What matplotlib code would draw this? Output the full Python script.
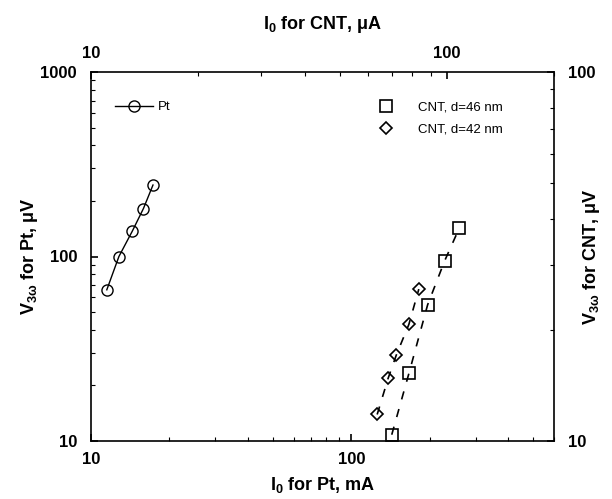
import numpy as np
import matplotlib
matplotlib.use("Agg")
import matplotlib.pyplot as plt
from matplotlib.ticker import FuncFormatter, NullFormatter, LogLocator

plt.rcParams['font.family'] = ['Liberation Sans', 'DejaVu Sans']
plt.rcParams['mathtext.fontset'] = 'custom'
plt.rcParams['mathtext.rm'] = 'Liberation Sans'
plt.rcParams['mathtext.bf'] = 'Liberation Sans:bold'
plt.rcParams['mathtext.it'] = 'Liberation Sans:italic'
plt.rcParams['mathtext.default'] = 'bf'

# Pt wire: bottom x (mA) / left y (uV)
pt_current = [11.5, 12.8, 14.4, 15.9, 17.3]
pt_voltage = [66, 100, 137, 182, 244]

# CNT: top x (uA) / right y (uV)
cnt46_current = [70.0, 78.3, 88.3, 98.6, 108.3]
cnt46_voltage = [10.4, 15.3, 23.4, 30.8, 37.7]
cnt42_current = [63.7, 68.4, 72.1, 78.2, 83.4]
cnt42_voltage = [11.8, 14.8, 17.1, 20.7, 25.8]

fig = plt.figure(figsize=(6.12, 4.99), dpi=100)
pos = [91 / 612, 1 - 441 / 499, 463 / 612, 369 / 499]
ax = fig.add_axes(pos)
axc = fig.add_axes(pos, frameon=False)

fmt = FuncFormatter(lambda v, p: '%g' % v)

ax.set_xscale('log')
ax.set_yscale('log')
ax.set_xlim(10, 600)
ax.set_ylim(10, 1000)
ax.plot(pt_current, pt_voltage, '-', color='black', lw=1,
        marker='o', ms=8, mfc='none', mec='black', mew=1, label='Pt')

dash = (0, (5, 6))
axc.set_xscale('log')
axc.set_yscale('log')
axc.set_xlim(10, 200)
axc.set_ylim(10, 100)
axc.plot(cnt46_current, cnt46_voltage, color='black', lw=1.2, ls=dash)
axc.plot(cnt42_current, cnt42_voltage, color='black', lw=1.2, ls=dash)
axc.plot(cnt46_current, cnt46_voltage, 's', ms=8, mfc='none', mec='black',
         mew=1.2, label='CNT, d=46 nm', zorder=3)
axc.plot(cnt42_current, cnt42_voltage, 'D', ms=6, mfc='none', mec='black',
         mew=1.2, label='CNT, d=42 nm', zorder=3)

ax.xaxis.set_ticks_position('bottom')
ax.yaxis.set_ticks_position('left')
axc.xaxis.tick_top()
axc.yaxis.tick_right()
axc.xaxis.set_label_position('top')
axc.yaxis.set_label_position('right')

for a in (ax, axc):
    for axis in (a.xaxis, a.yaxis):
        axis.set_major_locator(LogLocator(base=10))
        axis.set_minor_locator(LogLocator(base=10, subs=np.arange(2, 10)))
        axis.set_major_formatter(fmt)
        axis.set_minor_formatter(NullFormatter())
    a.tick_params(which='major', direction='in', length=5, width=1.2,
                  labelsize=12)
    a.tick_params(which='minor', direction='in', length=3, width=0.8)
    for lab in a.get_xticklabels() + a.get_yticklabels():
        lab.set_fontweight('bold')

ax.tick_params(axis='x', which='major', pad=8)
ax.tick_params(axis='y', which='major', pad=10)
axc.tick_params(axis='x', which='major', pad=8)
axc.tick_params(axis='y', which='major', pad=10)

for s in ax.spines.values():
    s.set_linewidth(1.2)

ax.set_xlabel(r'I$_0$ for Pt, mA', fontsize=13, fontweight='bold', labelpad=6)
ax.set_ylabel(r'V$_{3\omega}$ for Pt, μV', fontsize=13, fontweight='bold')
axc.set_xlabel(r'I$_0$ for CNT, μA', fontsize=13, fontweight='bold', labelpad=12)
axc.set_ylabel(r'V$_{3\omega}$ for CNT, μV', fontsize=13, fontweight='bold')

ax.yaxis.set_label_coords((30 - 91) / 463, 0.5)
ax.yaxis.label.set_verticalalignment('center')
axc.yaxis.set_label_coords((592 - 91) / 463, 0.5)
axc.yaxis.label.set_verticalalignment('center')
axc.yaxis.label.set_rotation(90)

ax.legend(loc='upper left', bbox_to_anchor=(0.04, 0.935), frameon=False,
          fontsize=9.5, handlelength=2.9, handletextpad=0.4, borderaxespad=0)
axc.legend(loc='upper left', bbox_to_anchor=(0.597, 0.935), frameon=False,
           fontsize=9.5, handlelength=2, handletextpad=1.4, labelspacing=0.75,
           borderaxespad=0)

fig.savefig('out.png', dpi=100)
